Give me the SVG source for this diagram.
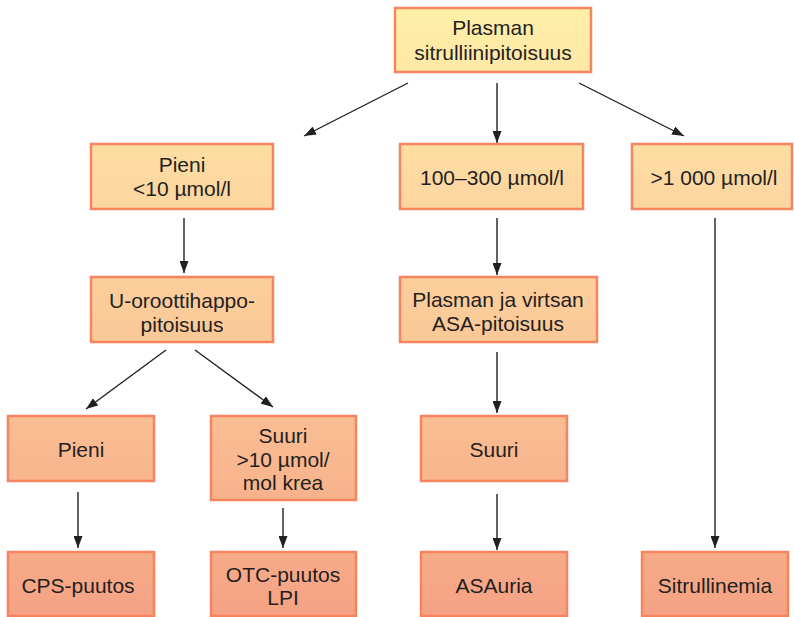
<svg xmlns="http://www.w3.org/2000/svg" width="794" height="617" viewBox="0 0 794 617">
<defs>
<linearGradient id="g" gradientUnits="userSpaceOnUse" x1="0" y1="0" x2="0" y2="617">
<stop offset="0" stop-color="#FFF1A8"/>
<stop offset="0.3" stop-color="#FDD8A1"/>
<stop offset="0.55" stop-color="#FBC898"/>
<stop offset="1" stop-color="#F5A284"/>
</linearGradient>
<marker id="ah" viewBox="0 0 12 9" refX="12" refY="4.5" markerWidth="12" markerHeight="9" markerUnits="userSpaceOnUse" orient="auto">
<path d="M0,0 L12,4.5 L0,9 Z" fill="#231F20"/>
</marker>
</defs>
<style>
rect{fill:url(#g);stroke:#F5845F;stroke-width:2.5}
text{font-family:"Liberation Sans",Arial,sans-serif;font-size:21px;fill:#231F20;text-anchor:middle}
#connectors line{stroke:#231F20;stroke-width:1.4;marker-end:url(#ah)}
</style>
<rect x="0" y="0" width="794" height="617" style="fill:#fff;stroke:none"/>
<g id="connectors">
<line x1="408" y1="83" x2="304" y2="136"/>
<line x1="497" y1="83" x2="497" y2="143"/>
<line x1="579" y1="83" x2="684" y2="136"/>
<line x1="184" y1="218" x2="184" y2="273"/>
<line x1="497" y1="218" x2="497" y2="275"/>
<line x1="715" y1="218" x2="715" y2="548"/>
<line x1="166" y1="350" x2="86" y2="409"/>
<line x1="195" y1="350" x2="273" y2="407"/>
<line x1="497" y1="352" x2="497" y2="413"/>
<line x1="78" y1="492" x2="78" y2="548"/>
<line x1="283" y1="508" x2="283" y2="548"/>
<line x1="497" y1="494" x2="497" y2="550"/>
</g>
<g id="n-top"><rect x="395" y="8" width="196" height="64"/><text x="493" y="35">Plasman</text><text x="493" y="60">sitrulliinipitoisuus</text></g>
<g id="n-pieni1"><rect x="91" y="144" width="182" height="65"/><text x="182" y="172">Pieni</text><text x="182" y="196">&lt;10 µmol/l</text></g>
<g id="n-mid"><rect x="400" y="144" width="183" height="65"/><text x="492" y="185">100–300 µmol/l</text></g>
<g id="n-high"><rect x="632" y="144" width="160" height="65"/><text x="714" y="185">&gt;1 000 µmol/l</text></g>
<g id="n-orot"><rect x="91" y="277" width="182" height="65"/><text x="182" y="308">U-oroottihappo-</text><text x="182" y="332">pitoisuus</text></g>
<g id="n-asa"><rect x="400" y="277" width="197" height="65"/><text x="498" y="307">Plasman ja virtsan</text><text x="498" y="331">ASA-pitoisuus</text></g>
<g id="n-pieni2"><rect x="8" y="416" width="146" height="65"/><text x="81" y="457">Pieni</text></g>
<g id="n-suuri1"><rect x="211" y="416" width="145" height="84"/><text x="283" y="443">Suuri</text><text x="283" y="466.5">&gt;10 µmol/</text><text x="283" y="490">mol krea</text></g>
<g id="n-suuri2"><rect x="421" y="416" width="146" height="65"/><text x="494" y="457">Suuri</text></g>
<g id="n-cps"><rect x="8" y="552" width="146" height="64"/><text x="78" y="593">CPS-puutos</text></g>
<g id="n-otc"><rect x="211" y="552" width="145" height="64"/><text x="283" y="582">OTC-puutos</text><text x="283" y="605">LPI</text></g>
<g id="n-asauria"><rect x="421" y="552" width="146" height="64"/><text x="494" y="593">ASAuria</text></g>
<g id="n-sitr"><rect x="642" y="552" width="146" height="64"/><text x="715" y="593">Sitrullinemia</text></g>
</svg>
